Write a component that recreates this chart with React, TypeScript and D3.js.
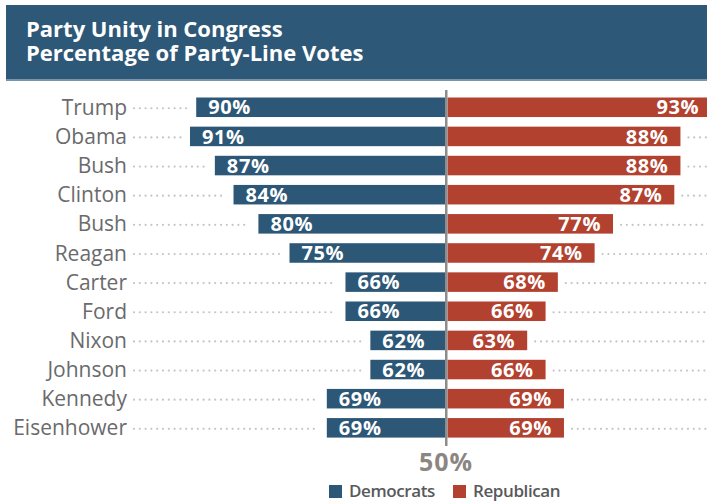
import React from "react";
import * as d3 from "d3";

const presidents = ["Trump","Obama","Bush","Clinton","Bush","Reagan","Carter","Ford","Nixon","Johnson","Kennedy","Eisenhower"];
const democrats = [90,91,87,84,80,75,66,66,62,62,69,69];
const republicans = [93,88,88,87,77,74,68,66,63,66,69,69];
const titleLines = ["Party Unity in Congress","Percentage of Party-Line Votes"];
const centerLabel = "50%";
const legendItems = ["Democrats","Republican"];

const W = 707, H = 504;
const DEM = "#2d5777";
const REP = "#b2412f";
const FONT = "'Open Sans', 'Noto Sans', sans-serif";

export default function App() {
  const cx = 446;
  const xL = d3.scaleLinear().domain([50, 100]).range([cx - 1, cx - 1 - 50 * 6.22]);
  const xR = d3.scaleLinear().domain([50, 100]).range([cx + 1.5, cx + 1.5 + 50 * 6.13]);
  const idx = presidents.map((_, i) => i);
  const y = d3.scaleBand<number>().domain(idx).range([92.7, 442.4]).paddingInner(0.33).paddingOuter(0.165);
  const bh = y.bandwidth();
  const dotStep = 5.8;

  const dots = (x0: number, x1: number, yc: number, key: string) => {
    if (x1 <= x0) return null;
    const n = Math.floor((x1 - x0) / dotStep) + 1;
    return d3.range(n).map(k => (
      <circle key={key + k} cx={x0 + k * dotStep} cy={yc} r={1.1} fill="#c4c4c4" />
    ));
  };

  return (
    <svg width={W} height={H} style={{ position: "absolute", left: 0, top: 0 }} fontFamily={FONT}>
      <rect x={6} y={5} width={W - 6} height={76} fill="#2d5877" />
      <rect x={6} y={79} width={W - 6} height={2} fill="#7893aa" />
      <text x={26} y={37} fill="#ffffff" fontSize={22} fontWeight={700}>
        {titleLines.map((t, i) => (
          <tspan key={i} x={26} dy={i === 0 ? 0 : 24}>{t}</tspan>
        ))}
      </text>
      {idx.map(i => {
        const yc = (y(i) as number) + bh / 2;
        const dl = xL(democrats[i]);
        const rr = xR(republicans[i]);
        return (
          <g key={i}>
            <text x={127} y={yc} dy="0.36em" textAnchor="end" fill="#6a6a6c" fontSize={21}>{presidents[i]}</text>
            {dots(134, dl - 9, yc + 1, "l")}
            {dots(rr + 8, W + 2, yc + 1, "r")}
            <rect x={dl} y={y(i)} width={cx - 1 - dl} height={bh} fill={DEM} />
            <rect x={cx + 1.5} y={y(i)} width={rr - cx - 1.5} height={bh} fill={REP} />
            <text x={dl + 12} y={yc} dy="0.36em" fill="#fff" fontSize={20} fontWeight={700} letterSpacing={0.6}>{democrats[i]}%</text>
            <text x={rr - 12} y={yc} dy="0.36em" textAnchor="end" fill="#fff" fontSize={20} fontWeight={700} letterSpacing={0.6}>{republicans[i]}%</text>
          </g>
        );
      })}
      <rect x={cx - 1} y={90} width={2.5} height={356} fill="#8c8c8c" />
      <text x={cx} y={471} textAnchor="middle" fill="#8b8682" fontSize={25} fontWeight={700} letterSpacing={1}>{centerLabel}</text>
      {legendItems.map((t, i) => (
        <g key={t}>
          <rect x={329 + i * 124} y={485} width={13} height={13} fill={i === 0 ? DEM : REP} />
          <text x={349 + i * 124} y={497} fill="#58595b" fontSize={17} fontWeight={600} letterSpacing={-0.4}>{t}</text>
        </g>
      ))}
    </svg>
  );
}
